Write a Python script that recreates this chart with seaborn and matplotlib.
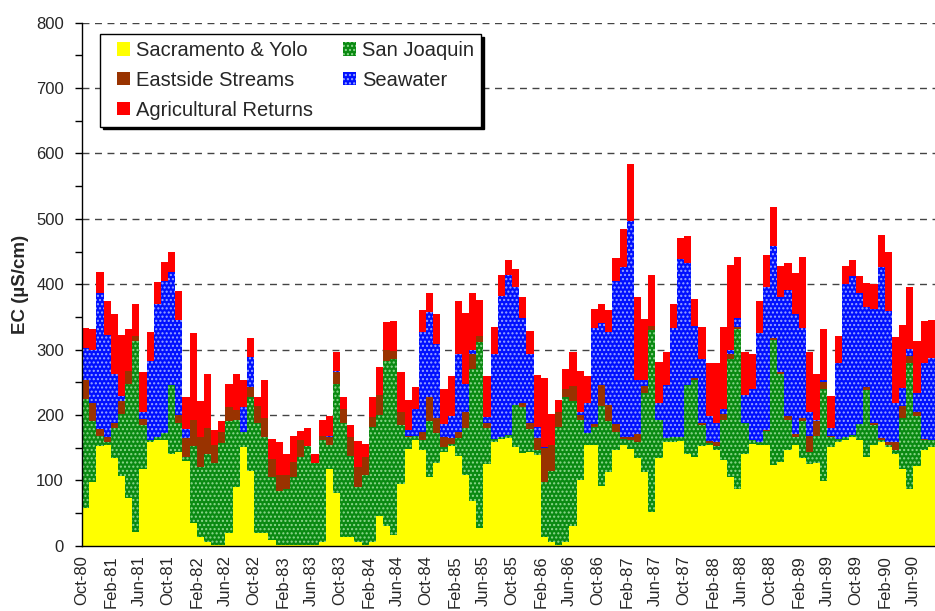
import matplotlib
matplotlib.use("Agg")
import matplotlib.pyplot as plt
from matplotlib.patches import Patch, Rectangle
from matplotlib.legend_handler import HandlerPatch
from matplotlib.ticker import MultipleLocator
import numpy as np
import pandas as pd
import seaborn as sns

# monthly EC contributions by source (uS/cm), Oct-80 .. Aug-90
sacramento = [58, 98, 152, 154, 134, 106, 73, 21, 118, 159, 162, 162, 141, 144, 129, 34,
              14, 6, 1, 1, 19, 90, 151, 115, 19, 19, 8, 1, 1, 1, 1, 1,
              1, 6, 117, 81, 13, 13, 5, 1, 6, 45, 30, 17, 95, 148, 161, 146,
              105, 126, 144, 152, 137, 108, 68, 27, 125, 159, 163, 164, 151, 142, 144, 139,
              14, 5, 1, 6, 30, 101, 154, 154, 91, 112, 147, 154, 148, 134, 112, 52,
              134, 158, 159, 160, 141, 135, 152, 154, 146, 131, 105, 86, 140, 156, 154, 154,
              123, 128, 147, 154, 134, 125, 126, 99, 151, 159, 162, 166, 161, 135, 154, 159,
              151, 140, 118, 86, 122, 146, 151]
san_joaquin = [167, 93, 16, 5, 46, 96, 175, 292, 67, 2, 4, 10, 105, 44, 7, 119,
               107, 134, 126, 156, 171, 103, 23, 112, 169, 147, 97, 83, 85, 104, 134, 151,
               125, 155, 37, 166, 174, 124, 85, 107, 175, 155, 253, 269, 90, 18, 7, 15,
               86, 46, 7, 3, 27, 72, 203, 285, 55, 4, 3, 5, 64, 70, 34, 7,
               84, 110, 180, 221, 192, 92, 19, 27, 122, 79, 27, 9, 13, 25, 122, 278,
               58, 6, 8, 6, 105, 118, 32, 3, 6, 62, 180, 245, 48, 5, 5, 22,
               192, 135, 46, 13, 57, 19, 42, 140, 15, 4, 5, 3, 25, 103, 30, 3,
               3, 7, 77, 194, 77, 15, 10]
eastside = [29, 27, 10, 8, 8, 20, 19, 8, 9, 0, 0, 0, 0, 12, 28, 39,
            46, 40, 27, 17, 22, 15, 0, 15, 25, 29, 27, 24, 22, 23, 27, 0,
            0, 7, 12, 18, 22, 29, 30, 27, 16, 31, 17, 12, 20, 2, 0, 13,
            36, 23, 15, 9, 10, 25, 22, 9, 7, 0, 0, 0, 0, 7, 10, 18,
            51, 39, 24, 12, 22, 7, 0, 5, 33, 24, 12, 4, 6, 12, 10, 6,
            0, 0, 0, 0, 0, 3, 3, 3, 7, 8, 8, 4, 0, 0, 0, 1,
            3, 3, 6, 4, 4, 24, 22, 11, 2, 0, 0, 0, 0, 4, 3, 2,
            5, 12, 19, 10, 6, 2, 0]
seawater = [48, 81, 209, 155, 74, 7, 0, 0, 11, 121, 203, 233, 173, 146, 14, 0,
            0, 0, 0, 0, 0, 0, 38, 46, 0, 0, 0, 0, 0, 0, 0, 0,
            0, 0, 2, 2, 0, 0, 0, 0, 0, 0, 0, 0, 0, 9, 41, 153,
            131, 114, 20, 35, 119, 42, 6, 0, 10, 130, 216, 245, 181, 130, 105, 18,
            2, 0, 0, 0, 0, 5, 45, 147, 94, 112, 219, 259, 329, 83, 10, 0,
            26, 82, 166, 273, 187, 80, 99, 39, 29, 8, 7, 14, 42, 78, 167, 218,
            141, 114, 192, 183, 138, 37, 2, 3, 12, 117, 233, 244, 200, 123, 175, 263,
            200, 60, 27, 11, 28, 116, 126]
ag_returns = [31, 33, 32, 53, 93, 93, 65, 48, 61, 45, 35, 29, 30, 44, 50, 134,
              55, 82, 23, 16, 35, 54, 41, 29, 14, 58, 31, 50, 33, 40, 14, 28,
              14, 25, 30, 29, 19, 19, 40, 21, 31, 43, 42, 45, 61, 46, 33, 33,
              28, 45, 53, 61, 82, 109, 88, 55, 62, 42, 32, 23, 27, 32, 35, 79,
              105, 47, 18, 31, 53, 62, 41, 29, 29, 33, 35, 58, 88, 127, 93, 78,
              63, 50, 36, 31, 40, 41, 48, 80, 92, 126, 129, 92, 67, 54, 48, 49,
              59, 48, 42, 63, 109, 92, 71, 79, 49, 41, 28, 24, 27, 37, 39, 49,
              91, 101, 97, 95, 80, 65, 58]

source_names = ["Sacramento & Yolo", "San Joaquin", "Eastside Streams",
                "Seawater", "Agricultural Returns"]
source_colors = ["#ffff00", "#0a8a12", "#993300", "#0010ff", "#ff0000"]
source_hatch = [None, "....", None, "....", None]
hatch_colors = [None, "#8fd88f", None, "#9aa8ff", None]

months = pd.date_range("1980-10-01", periods=len(sacramento), freq="MS").strftime("%b-%y")
tick_step = 4

sns.set_style("white")
plt.rcParams["font.family"] = ["Liberation Sans", "DejaVu Sans"]
plt.rcParams["hatch.linewidth"] = 1.0

df = pd.DataFrame({"month": np.arange(len(sacramento))})
stack = np.zeros(len(sacramento))
tops = []
for vals in [sacramento, san_joaquin, eastside, seawater, ag_returns]:
    stack = stack + np.array(vals)
    tops.append(stack.copy())

fig = plt.figure(figsize=(9.35, 6.11), dpi=100)
ax = fig.add_axes([82 / 935, 65.3 / 611, 853 / 935, 523 / 611])

# tallest cumulative layer first, each lower layer painted over it
for k in reversed(range(5)):
    df["top"] = tops[k]
    n0 = len(ax.patches)
    sns.barplot(data=df, x="month", y="top", color=source_colors[k], width=1,
                saturation=1, errorbar=None, linewidth=0, ax=ax)
    for p in ax.patches[n0:]:
        p.set_antialiased(False)
        if source_hatch[k]:
            p.set_hatch(source_hatch[k])
            p.set_edgecolor(hatch_colors[k])

ax.set_xlim(-0.5, len(sacramento) - 0.5)
ax.set_ylim(0, 800)
ax.yaxis.set_major_locator(MultipleLocator(100))
ax.yaxis.set_minor_locator(MultipleLocator(50))
ax.set_axisbelow(True)
ax.grid(axis="y", which="major", color="#444444", linestyle=(0, (5, 4)), linewidth=1)
ax.grid(axis="x", visible=False)

ticks = np.arange(0, len(sacramento), tick_step)
ax.set_xticks(ticks - 0.5)
ax.set_xticklabels([months[i] for i in ticks], rotation=90, fontsize=12)
ax.tick_params(axis="x", direction="out", length=5, width=1, pad=2, color="black")
ax.tick_params(axis="y", which="both", direction="out", length=5, width=1, labelsize=12,
               pad=8, left=True, color="black")
ax.set_xlabel("")
ax.set_ylabel("EC (\u00b5S/cm)", fontsize=13.5, fontweight="bold", labelpad=5)

for side in ["top", "right"]:
    ax.spines[side].set_visible(False)
for side in ["left", "bottom"]:
    ax.spines[side].set_color("black")
    ax.spines[side].set_linewidth(1)


def small_square(legend, orig_handle, xdescent, ydescent, width, height, fontsize):
    s = 9.4
    return Rectangle((-xdescent + width - s, -ydescent + (height - s) / 2), s, s)


order = [0, 2, 4, 1, 3]
handles = [Patch(facecolor=source_colors[k], hatch=source_hatch[k],
                 edgecolor=hatch_colors[k] or source_colors[k], linewidth=0)
           for k in order]
leg = ax.legend(handles, [source_names[k] for k in order], ncol=2, loc="upper left",
                bbox_to_anchor=(0.0211, 0.978), borderaxespad=0, fontsize=14.5,
                handler_map={Patch: HandlerPatch(patch_func=small_square)},
                handlelength=1.15, handleheight=0.65, handletextpad=0.3,
                labelspacing=0.54, columnspacing=1.0, borderpad=0.34,
                fancybox=False, framealpha=1, edgecolor="black",
                shadow={"color": "black", "alpha": 1})
leg.get_frame().set_linewidth(1)

fig.savefig("out.png", dpi=100)
